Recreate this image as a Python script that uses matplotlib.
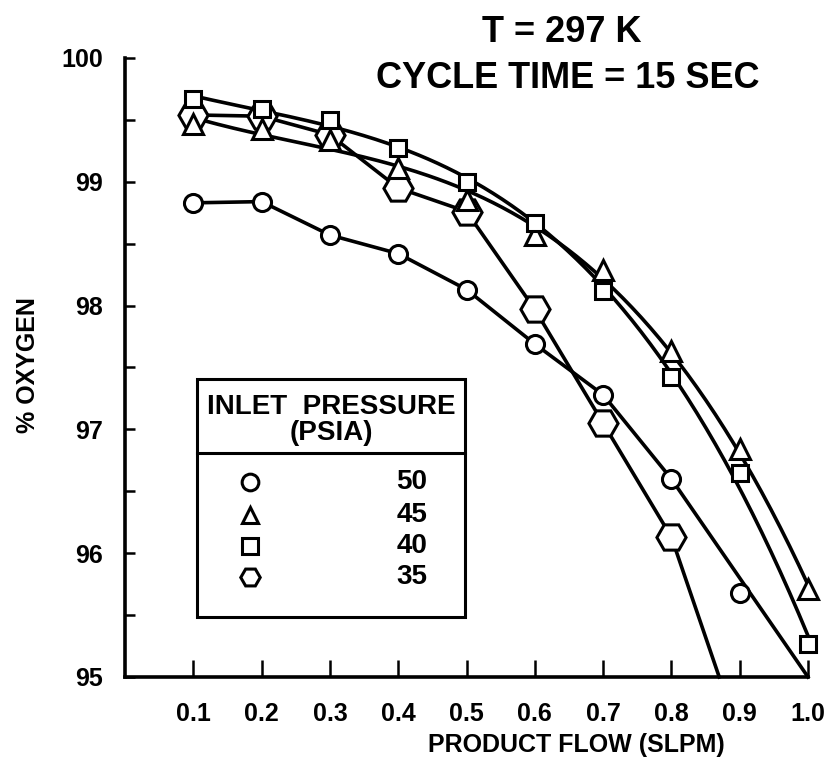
import numpy as np
from matplotlib import pyplot as plt
from matplotlib.patches import Rectangle
from matplotlib.lines import Line2D

plt.rcParams['font.family'] = ['Liberation Sans', 'DejaVu Sans']
plt.rcParams['font.weight'] = 'bold'

# product flow (SLPM)
flow = [0.1, 0.2, 0.3, 0.4, 0.5, 0.6, 0.7, 0.8, 0.9, 1.0]

# % oxygen for each inlet pressure (psia)
o2_50 = [98.83, 98.84, 98.57, 98.42, 98.13, 97.69, 97.28, 96.60, 95.68]
o2_45 = [99.47, 99.43, 99.34, 99.11, 98.85, 98.57, 98.29, 97.63, 96.84, 95.71]
o2_40 = [99.67, 99.59, 99.50, 99.27, 99.00, 98.67, 98.12, 97.42, 96.65, 95.27]
o2_35 = [99.54, 99.53, 99.38, 98.95, 98.76, 97.97, 97.05, 96.13]

# where the drawn lines for 50 and 35 psia run into the x axis
end_50 = (1.0, 95.0)
end_35 = (0.87, 95.0)

pressures = ['50', '45', '40', '35']

W, H = 827, 768
def fx(px):
    return px / W
def fy(py):
    return 1 - py / H

fig = plt.figure(figsize=(W / 100, H / 100), dpi=100)
ax = fig.add_axes([fx(125), fy(677), fx(808) - fx(125), fy(58) - fy(677)])

lw = 2.6
mew = 2.2

# 50 psia: straight segments, last one runs to the axis
x50 = flow[:8] + [end_50[0]]
y50 = o2_50[:8] + [end_50[1]]
ax.plot(x50, y50, color='black', lw=lw, zorder=2, clip_on=False)
ax.plot(flow[:len(o2_50)], o2_50, ls='none', marker='o', ms=13, mfc='white',
        mec='black', mew=mew, zorder=3, clip_on=False)

# 35 psia
x35 = flow[:8] + [end_35[0]]
y35 = o2_35 + [end_35[1]]
ax.plot(x35, y35, color='black', lw=lw, zorder=2, clip_on=False)
ax.plot(flow[:len(o2_35)], o2_35, ls='none', marker='H', ms=21, mfc='white',
        mec='black', mew=mew, zorder=3, clip_on=False)

# 45 and 40 psia: smooth drawn curves
xs = np.linspace(0.1, 1.0, 200)
for vals, mk, ms, z in [(o2_45, '^', 14, 4), (o2_40, 's', 12, 5)]:
    fit = np.polyfit(flow, vals, 3)
    ax.plot(xs, np.polyval(fit, xs), color='black', lw=lw, zorder=2, clip_on=False)
    ax.plot(flow, vals, ls='none', marker=mk, ms=ms, mfc='white',
            mec='black', mew=mew, zorder=z, clip_on=False)

ax.set_xlim(0, 1.0)
ax.set_ylim(95, 100)
ax.set_xticks(flow)
ax.set_xticklabels([f'{v:.1f}' for v in flow])
ax.set_yticks([95, 96, 97, 98, 99, 100])
ax.set_yticks([95.5, 96.5, 97.5, 98.5, 99.5], minor=True)
ax.spines['top'].set_visible(False)
ax.spines['right'].set_visible(False)
for s in ['left', 'bottom']:
    ax.spines[s].set_linewidth(2.6)
ax.tick_params(axis='x', direction='in', length=12, width=1.8, pad=18, labelsize=18)
ax.tick_params(axis='y', which='both', direction='in', length=7, width=1.8, pad=16, labelsize=18)

fig.text(fx(576), fy(745), 'PRODUCT FLOW (SLPM)', ha='center', va='center', fontsize=18)
fig.text(fx(28), fy(365), '% OXYGEN', ha='center', va='center', rotation=90, fontsize=18)

fig.text(fx(562), fy(32), 'T = 297 K', ha='center', va='center', fontsize=26)
fig.text(fx(568), fy(78), 'CYCLE TIME = 15 SEC', ha='center', va='center', fontsize=26)

# legend box
box = Rectangle((fx(197), fy(617)), fx(465) - fx(197), fy(379) - fy(617),
                transform=fig.transFigure, fill=False, lw=2.2, ec='black')
fig.patches.append(box)
fig.lines.append(Line2D([fx(197), fx(465)], [fy(453), fy(453)],
                        transform=fig.transFigure, color='black', lw=2.2))
fig.text(fx(331), fy(407), 'INLET  PRESSURE', ha='center', va='center', fontsize=20)
fig.text(fx(331), fy(433), '(PSIA)', ha='center', va='center', fontsize=20)
leg_marks = [('o', 12), ('^', 12), ('s', 11), ('H', 14)]
for i, (lab, (mk, ms)) in enumerate(zip(pressures, leg_marks)):
    yy = [482, 515, 546, 577][i]
    fig.lines.append(Line2D([fx(250)], [fy(yy)], transform=fig.transFigure, ls='none',
                            marker=mk, ms=ms, mfc='white', mec='black', mew=mew))
    fig.text(fx(412), fy(yy), lab, ha='center', va='center', fontsize=20)

fig.savefig('out.png', dpi=100)
